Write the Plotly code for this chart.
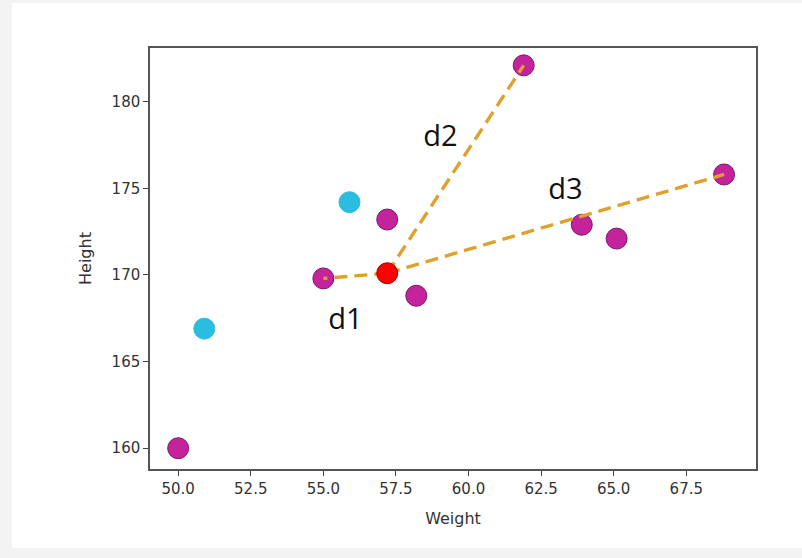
import plotly.graph_objects as go

# Data
other_w = [50.0, 55.0, 57.2, 58.2, 61.9, 63.9, 65.1, 68.8]
other_h = [160.0, 169.8, 173.2, 168.8, 182.1, 172.9, 172.1, 175.8]
cyan_w = [50.9, 55.9]
cyan_h = [166.9, 174.2]
query_w = [57.2]
query_h = [170.1]
# neighbours linked to the query point
link_w = [55.0, 61.9, 68.8]
link_h = [169.8, 182.1, 175.8]
link_labels = ["d1", "d2", "d3"]
label_w = [55.76, 59.03, 63.34]
label_h = [167.3, 177.85, 174.8]

W, H = 802, 558
L, R, T, B = 150, 46, 48, 89
pw, ph = W - L - R, H - T - B

fig = go.Figure()

fig.add_trace(go.Scatter(
    x=other_w, y=other_h, mode="markers",
    marker=dict(size=21, color="#c4239c", line=dict(color="#7a1a6a", width=1)),
    showlegend=False, hoverinfo="skip"))
fig.add_trace(go.Scatter(
    x=cyan_w, y=cyan_h, mode="markers",
    marker=dict(size=21, color="#2bbde0", line=dict(color="#2bbde0", width=1)),
    showlegend=False, hoverinfo="skip"))

for lw, lh in zip(link_w, link_h):
    fig.add_trace(go.Scatter(
        x=[query_w[0], lw], y=[query_h[0], lh], mode="lines",
        line=dict(color="#dfa02c", width=3.4, dash="13px,7px"),
        showlegend=False, hoverinfo="skip"))

fig.add_trace(go.Scatter(
    x=query_w, y=query_h, mode="markers",
    marker=dict(size=21, color="#ff0000", line=dict(color="#a00000", width=1)),
    showlegend=False, hoverinfo="skip"))

fig.add_trace(go.Scatter(
    x=label_w, y=label_h, mode="text", text=link_labels,
    textfont=dict(family="Open Sans, sans-serif", size=29, color="#111111"),
    showlegend=False, hoverinfo="skip"))

# light page frame
fig.add_shape(type="rect", xref="paper", yref="paper",
              x0=(12 - L) / pw, x1=(W + 5 - L) / pw,
              y0=(T + ph - 548) / ph, y1=(T + ph - 3) / ph,
              fillcolor="white", line=dict(width=0), layer="below")

axis_common = dict(
    showgrid=False, zeroline=False, showline=True, linecolor="#555555", linewidth=1.5,
    mirror=True, ticks="outside", ticklen=5, tickcolor="#444444", tickwidth=1,
    tickfont=dict(family="DejaVu Sans, sans-serif", size=15, color="#333333"),
)

fig.update_xaxes(range=[49.03, 69.9], tickvals=[50, 52.5, 55, 57.5, 60, 62.5, 65, 67.5],
                 ticktext=["50.0", "52.5", "55.0", "57.5", "60.0", "62.5", "65.0", "67.5"],
                 title=dict(text="Weight", standoff=16,
                            font=dict(family="DejaVu Sans, sans-serif", size=16, color="#333333")),
                 **axis_common)
fig.update_yaxes(range=[158.8, 183.1], tickvals=[160, 165, 170, 175, 180],
                 title=dict(text="Height", standoff=16,
                            font=dict(family="DejaVu Sans, sans-serif", size=16, color="#333333")),
                 **axis_common)

fig.update_layout(
    width=W, height=H,
    margin=dict(l=L, r=R, t=T, b=B),
    paper_bgcolor="#f3f3f3", plot_bgcolor="white",
)

fig.write_html("out.html", config={"displayModeBar": False},
               post_script="document.body.style.margin='0';document.body.style.background='#f3f3f3';")
